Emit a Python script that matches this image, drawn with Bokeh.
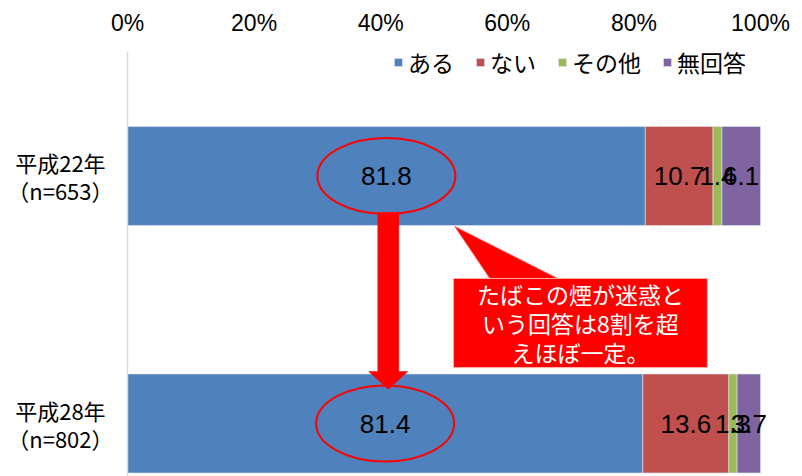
from bokeh.plotting import figure
from bokeh.models import (ColumnDataSource, Range1d, LinearAxis, FixedTicker, Span,
                          Legend, LegendItem)
from bokeh.core.properties import value
from bokeh.embed import file_html
from bokeh.resources import INLINE

# ---- data ----
categories = ["平成22年\n（n=653）", "平成28年\n（n=802）"]
series_names = ["ある", "ない", "その他", "無回答"]
aru = [81.8, 81.4]
nai = [10.7, 13.6]
sonota = [1.4, 1.3]
mukaitou = [6.1, 3.7]
tick_values = [0, 20, 40, 60, 80, 100]
tick_labels = ["0%", "20%", "40%", "60%", "80%", "100%"]
callout_text = "たばこの煙が迷惑と\nいう回答は8割を超\nえほぼ一定。"

colors = ["#4f81bd", "#c0504d", "#9bbb59", "#8064a2"]
JP = "Noto Sans CJK JP"
NUM = "Liberation Sans"

# ---- layout (pixels) ----
W, H = 802, 476
TOP = 51                 # frame top (canvas px)
PX_PER_PCT = 6.33
X0_PX = 127              # canvas px of 0%
ROW0_PX = 175.5          # canvas px of first category centre
ROW_STEP = 247.5         # px between categories
FRAME_H = H - TOP

x_start = -X0_PX / PX_PER_PCT
x_end = (W - X0_PX) / PX_PER_PCT
y_top = -(ROW0_PX - TOP) / ROW_STEP
y_bottom = (FRAME_H - (ROW0_PX - TOP)) / ROW_STEP
px_y = 1.0 / ROW_STEP    # y units per pixel

p = figure(width=W, height=H, output_backend="svg", toolbar_location=None,
           x_range=Range1d(x_start, x_end), y_range=Range1d(y_bottom, y_top),
           x_axis_type=None, y_axis_type=None,
           min_border_left=0, min_border_right=0, min_border_bottom=0,
           min_border_top=TOP)
p.outline_line_color = None
p.xgrid.visible = False
p.ygrid.visible = False
p.background_fill_color = "white"
p.border_fill_color = "white"

# top axis
ax = LinearAxis(ticker=FixedTicker(ticks=tick_values),
                major_label_overrides={v: l for v, l in zip(tick_values, tick_labels)})
ax.axis_line_color = None
ax.major_tick_line_color = None
ax.minor_tick_line_color = None
ax.major_tick_out = 0
ax.major_label_standoff = 16
ax.major_label_text_font = NUM
ax.major_label_text_font_size = "23px"
ax.major_label_text_color = "#000000"
p.add_layout(ax, "above")

# category axis line
p.add_layout(Span(location=0, dimension="height", line_color="#d9d9d9", line_width=1.5))

# stacked bars
idx = list(range(len(categories)))
series = [aru, nai, sonota, mukaitou]
left = [0.0] * len(idx)
bar_h = 0.40
items = []
label_x, label_y, label_t = [], [], []
for name, vals, col in zip(series_names, series, colors):
    right = [l + v for l, v in zip(left, vals)]
    src = ColumnDataSource(dict(y=idx, left=left, right=right))
    r = p.hbar(y="y", left="left", right="right", height=bar_h, source=src,
               fill_color=col, line_color="#dde4f0", line_width=0.6)
    items.append(LegendItem(label=name, renderers=[r]))
    for i in idx:
        label_x.append((left[i] + right[i]) / 2)
        label_y.append(i)
        label_t.append(f"{vals[i]:.1f}")
    left = right

# red ellipses around the "ある" values
ell_src = ColumnDataSource(dict(x=[a / 2 for a in aru], y=idx))
p.ellipse(x="x", y="y", width=21.8, height=0.307, source=ell_src,
          fill_color=None, line_color="#ff0000", line_width=2)

# data labels
p.text(x=label_x, y=label_y, text=label_t, text_align="center", text_baseline="middle",
       text_font=value(NUM), text_font_size="26px", text_color="#000000")

# category labels (two lines each)
cx, cy, ct = [], [], []
for i, c in zip(idx, categories):
    lines = c.split("\n")
    n = len(lines)
    for k, ln in enumerate(lines):
        cx.append(-10.6)
        cy.append(i + (k - (n - 1) / 2) * 28 * px_y)
        ct.append(ln)
p.text(x=cx, y=cy, text=ct, text_align="center", text_baseline="middle",
       text_font=value(JP), text_font_size="22px", text_color="#000000")

# red arrow from first to second
ax_c = (aru[0] / 2 + aru[1] / 2) / 2 + 0.4
sw, hw = 1.66, 3.08
y_a0, y_hb, y_tip = 0.147, 0.79, 0.862
p.patch(x=[ax_c - sw, ax_c + sw, ax_c + sw, ax_c + hw, ax_c, ax_c - hw, ax_c - sw],
        y=[y_a0, y_a0, y_hb, y_hb, y_tip, y_hb, y_hb],
        fill_color="#ff0000", line_color="#ff0000", line_width=0.5)

# callout
p.patch(x=[51.7, 57.3, 68.1], y=[0.204, 0.416, 0.416],
        fill_color="#ff0000", line_color="#ff6060", line_width=0.8)
p.quad(left=[51.5], right=[91.6], top=[0.414], bottom=[0.774],
       fill_color="#ff0000", line_color="#ffb0b0", line_width=1)
c_lines = callout_text.split("\n")
c_mid = 0.592
p.text(x=[71.55] * len(c_lines),
       y=[c_mid + (k - (len(c_lines) - 1) / 2) * 29 * px_y for k in range(len(c_lines))],
       text=c_lines, text_align="center", text_baseline="middle",
       text_font=value(JP), text_font_size="23px", text_color="#ffffff")

# legend
legend = Legend(items=items, orientation="horizontal", location=(393, 396),
                glyph_width=10, glyph_height=10, label_standoff=5, spacing=21,
                label_height=36, padding=0, margin=0, border_line_color=None,
                background_fill_alpha=0, label_text_font=JP,
                label_text_font_size="23px", label_text_color="#000000")
p.add_layout(legend, "center")

open("out.html", "w").write(file_html(p, INLINE))
